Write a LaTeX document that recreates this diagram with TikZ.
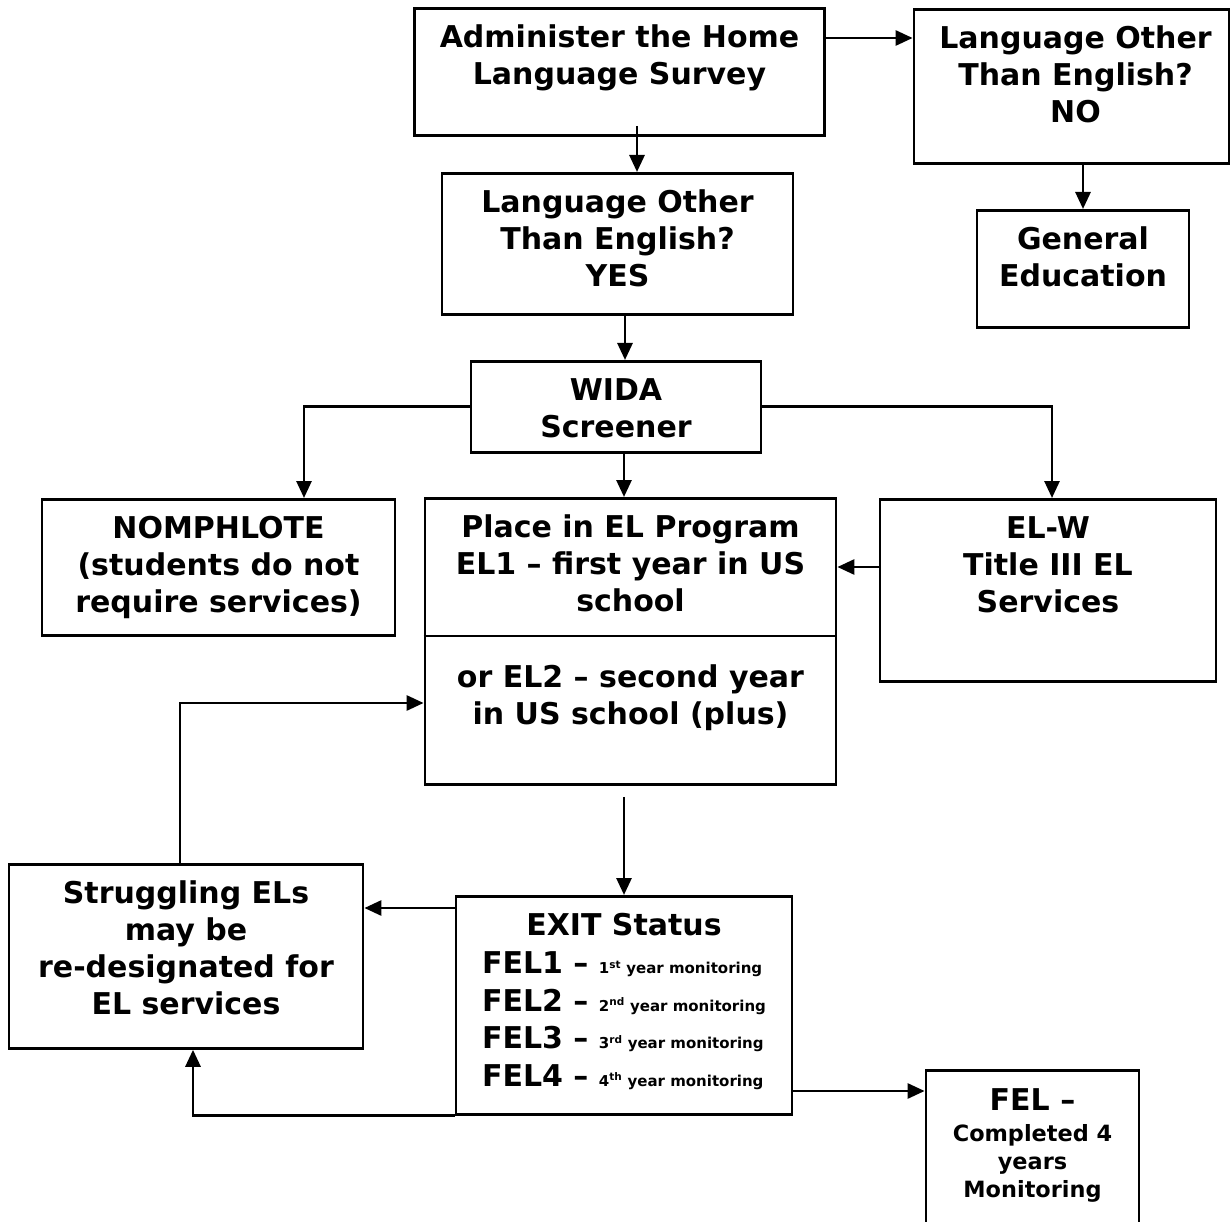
\documentclass[tikz,border=0pt]{standalone}
\usepackage{fontspec}
\setmainfont{DejaVu Sans}
\usetikzlibrary{arrows.meta,calc,positioning}
\newcommand\yrmon[2]{{\fontsize{15}{15}\selectfont #1\textsuperscript{#2} year monitoring}}

\begin{document}
\begin{tikzpicture}[%
    x=1pt, y=-1pt,
    box/.style={draw, line width=2.8pt, anchor=north, inner sep=0pt},
    txt/.style={font=\bfseries\fontsize{30}{37}\selectfont, align=center, inner sep=0pt},
    sml/.style={font=\bfseries\fontsize{22.4}{28}\selectfont, align=center, inner sep=0pt},
    arr/.style={line width=2.8pt, -{Triangle[length=17pt,width=15pt]}}
]
\useasboundingbox (0,0) rectangle (1232,1222);
    % boxes
    \node[box, minimum width=410pt, minimum height=127pt] (adm) at (619.5,7) {};
    \node[box, minimum width=315pt, minimum height=154pt] (no) at (1071.5,8) {};
    \node[box, minimum width=212pt, minimum height=117pt] (gen) at (1083,209) {};
    \node[box, minimum width=351pt, minimum height=141pt] (yes) at (617.5,172) {};
    \node[box, minimum width=290pt, minimum height=91pt] (wida) at (616,360) {};
    \node[box, minimum width=353pt, minimum height=136pt] (nom) at (218.5,498) {};
    \node[box, minimum width=411pt, minimum height=286pt] (pl) at (630.5,497) {};
    \node[box, minimum width=336pt, minimum height=182pt] (elw) at (1048,498) {};
    \node[box, minimum width=354pt, minimum height=184pt] (str) at (186,863) {};
    \node[box, minimum width=336pt, minimum height=218pt] (ex) at (624,895) {};
    \node[box, minimum width=213pt, minimum height=162pt] (fel) at (1032.5,1069) {};
    \coordinate (div) at ($(pl.north)+(0,139)$);
    \draw[line width=2.8pt] (div -| pl.west) -- (div -| pl.east);

    % texts
    \node[txt, below=18pt of adm.north] (adm-t) {Administer the Home\\Language Survey};
    \node[txt, below=18pt of no.north, xshift=4pt] (no-t) {Language Other\\Than English?\\NO};
    \node[txt, below=18pt of gen.north] (gen-t) {General\\Education};
    \node[txt, below=18pt of yes.north] (yes-t) {Language Other\\Than English?\\YES};
    \node[txt, below=18pt of wida.north] (wida-t) {WIDA\\Screener};
    \node[txt, below=18pt of nom.north] (nom-t) {NOMPHLOTE\\(students do not\\require services)};
    \node[txt, below=18pt of pl.north] (pl-t) {Place in EL Program\\EL1 – first year in US\\school};
    \node[txt, below=29pt of div] (pl-l) {or EL2 – second year\\in US school (plus)};
    \node[txt, below=18pt of elw.north] (elw-t) {EL-W\\Title III EL\\Services};
    \node[txt, below=18pt of str.north] (str-t) {Struggling ELs\\may be\\re-designated for\\EL services};
    \node[txt, below=18pt of ex.north] (ex-t) {EXIT Status};
    \node[txt, align=left, font=\bfseries\fontsize{30}{37.5}\selectfont,
        below=15.5pt of ex-t] (ex-l) {FEL1 – \yrmon{1}{st}\\FEL2 – \yrmon{2}{nd}\\FEL3 – \yrmon{3}{rd}\\FEL4 – \yrmon{4}{th}};
    \node[txt, below=19pt of fel.north] (fel-t) {FEL –};
    \node[sml, below=14pt of fel-t] (fel-s) {Completed 4\\years\\Monitoring};

    % connectors
    \coordinate (a1) at ($(adm.north east)+(0,31)$);
    \draw[arr] (a1) -- (a1 -| no.west);
    \coordinate (a2) at ($(adm.south)+(17.5,-11)$);
    \draw[arr] (a2) -- (a2 |- yes.north);
    \draw[arr] (no.south -| gen.north) -- (gen.north);
    \coordinate (y1) at ($(yes.south)+(7.5,0)$);
    \draw[arr] (y1) -- (y1 |- wida.north);
    \draw[arr] (wida.west) -| ($(nom.north)+(85.5,0)$);
    \draw[arr] (wida.east) -| ($(elw.north)+(4,0)$);
    \coordinate (w1) at ($(wida.south)+(8,0)$);
    \draw[arr] (w1) -- (w1 |- pl.north);
    \coordinate (e1) at ($(elw.north west)+(0,69)$);
    \draw[arr] (e1) -- (e1 -| pl.east);
    \coordinate (p1) at ($(pl.south -| ex.north)+(0,11)$);
    \draw[arr] (p1) -- (ex.north);
    \coordinate (x1) at ($(ex.north west)+(0,13)$);
    \draw[arr] (x1) -- (x1 -| str.east);
    \draw[arr] ($(str.north)+(-6,0)$) |- ($(pl.north west)+(0,206)$);
    \draw[arr] (ex.south west) -| ($(str.south)+(7,0)$);
    \coordinate (x2) at ($(ex.north east)+(0,196)$);
    \draw[arr] (x2) -- (x2 -| fel.west);
\end{tikzpicture}
\end{document}
